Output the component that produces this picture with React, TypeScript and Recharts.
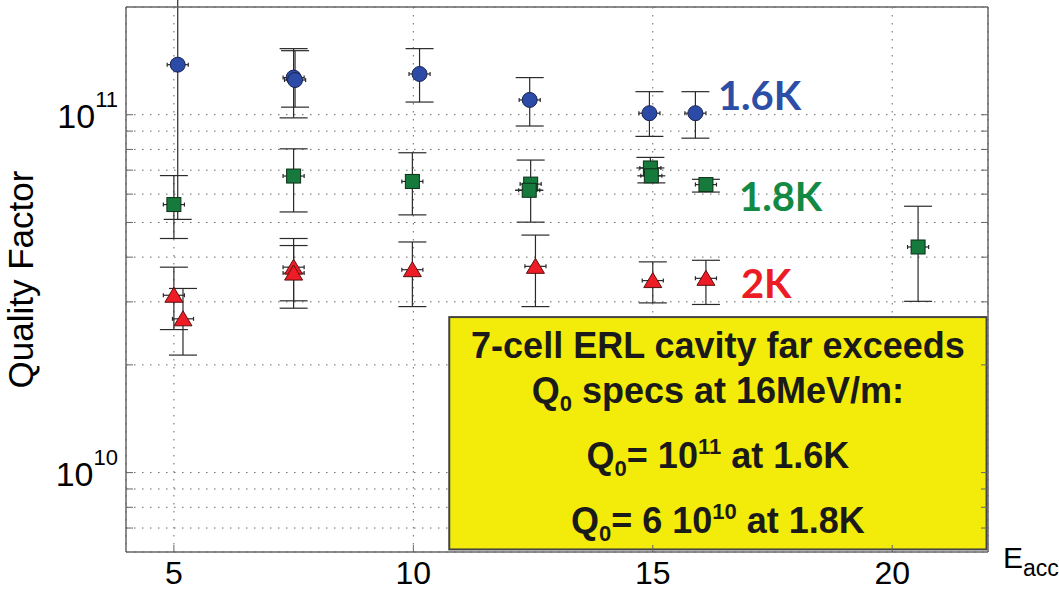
import React from 'react';
import {
  ScatterChart,
  Scatter,
  XAxis,
  YAxis,
  CartesianGrid,
  ErrorBar,
  ReferenceArea,
  ReferenceDot
} from 'recharts';

// E_acc (MV/m) and Q0 with lower / upper error limits, one set per bath temperature
const eacc16 = [5.08, 7.5, 7.53, 10.13, 12.43, 14.93, 15.89];
const q16 = [1.38e11, 1.27e11, 1.25e11, 1.3e11, 1.1e11, 1.01e11, 1.01e11];
const q16High = [4e11, 1.53e11, 1.51e11, 1.53e11, 1.27e11, 1.16e11, 1.16e11];
const q16Low = [5.1e10, 9.8e10, 1.05e11, 1.085e11, 9.3e10, 8.7e10, 8.6e10];

const eacc18 = [5.0, 7.5, 9.98, 12.45, 12.42, 14.95, 14.97, 16.11, 20.54];
const q18 = [5.61e10, 6.74e10, 6.51e10, 6.4e10, 6.15e10, 7.1e10, 6.75e10, 6.38e10, 4.27e10];
const q18High = [6.76e10, 8.03e10, 7.83e10, 7.47e10, 6.15e10, 7.6e10, 6.75e10, 6.6e10, 5.55e10];
const q18Low = [4.51e10, 5.35e10, 5.25e10, 5.01e10, 6.15e10, 7.1e10, 6.45e10, 6.08e10, 3.01e10];

const eacc20 = [5.0, 5.19, 7.5, 7.5, 9.98, 12.55, 15.0, 16.11];
const q20 = [3.13e10, 2.69e10, 3.75e10, 3.61e10, 3.69e10, 3.77e10, 3.44e10, 3.49e10];
const q20High = [3.75e10, 3.27e10, 4.51e10, 4.31e10, 4.41e10, 4.61e10, 3.88e10, 3.92e10];
const q20Low = [2.51e10, 2.13e10, 3.02e10, 2.88e10, 2.91e10, 2.91e10, 2.98e10, 2.95e10];

// half width of the horizontal error bars (MV/m)
const xErr = 0.22;

const xTicks = [5, 10, 15, 20];
const yTicks = [7e9, 8e9, 9e9, 1e10, 2e10, 3e10, 4e10, 5e10, 6e10, 7e10, 8e10, 9e10, 1e11];
const yLabelled = [1e10, 1e11];

// temperature annotations
const tempLabels = ['1.6K', '1.8K', '2K'];
const tempLabelE = [16.36, 16.8, 16.84];
const tempLabelQ = [1.135e11, 5.92e10, 3.38e10];

// yellow note box corners
const boxE = [10.75, 21.97];
const boxQ = [6.1e9, 2.72e10];

const BLUE = '#2B4BA7';
const GREEN = '#167A3C';
const RED = '#EE1C25';
const labelColors = ['#2C4EA6', '#138A43', '#EC1C24'];
const FRAME = '#666';
const FONT = "'Liberation Sans', Arial, sans-serif";

function buildRows(e: number[], q: number[], hi: number[], lo: number[]) {
  return e.map((x, i) => ({
    x,
    q: q[i],
    qErr: [q[i] - lo[i], hi[i] - q[i]],
    xErr: [xErr, xErr]
  }));
}

const rows16 = buildRows(eacc16, q16, q16High, q16Low);
const rows18 = buildRows(eacc18, q18, q18High, q18Low);
const rows20 = buildRows(eacc20, q20, q20High, q20Low);

const CircleMark = (p: any) => (
  <circle cx={p.cx} cy={p.cy} r={7.5} fill={BLUE} stroke="#1a2450" strokeWidth={1} />
);
const SquareMark = (p: any) => (
  <rect x={p.cx - 7} y={p.cy - 7} width={14} height={14} fill={GREEN} stroke="#0c2e16" strokeWidth={1} />
);
const TriangleMark = (p: any) => (
  <polygon
    points={`${p.cx},${p.cy - 8} ${p.cx + 9},${p.cy + 7} ${p.cx - 9},${p.cy + 7}`}
    fill={RED}
    stroke="#5a1010"
    strokeWidth={1}
  />
);

// ticks point inward, MATLAB style
const LeftTick = ({ x, y, payload }: any) => {
  const major = yLabelled.includes(payload.value);
  return (
    <g>
      <line x1={x} x2={x + 7} y1={y} y2={y} stroke={FRAME} />
      {major && (
        <text x={x - 8} y={y + 13} textAnchor="end" fontSize={34} fontFamily={FONT} fill="#000">
          10
          <tspan dy={-21} fontSize={22}>
            {Math.round(Math.log10(payload.value))}
          </tspan>
        </text>
      )}
    </g>
  );
};
const RightTick = ({ x, y }: any) => <line x1={x} x2={x - 7} y1={y} y2={y} stroke={FRAME} />;
const TopTick = ({ x, y }: any) => <line x1={x} x2={x} y1={y} y2={y + 7} stroke={FRAME} />;
const BottomTick = ({ x, y, payload }: any) => (
  <g>
    <line x1={x} x2={x} y1={y} y2={y - 7} stroke={FRAME} />
    <text x={x} y={y + 32} textAnchor="middle" fontSize={32} fontFamily={FONT} fill="#000">
      {payload.value}
    </text>
  </g>
);

const YTitle = (props: any) => {
  const vb = props.viewBox;
  const cx = vb.x + 33;
  const cy = vb.y + vb.height / 2;
  return (
    <text
      x={cx}
      y={cy}
      transform={`rotate(-90, ${cx}, ${cy})`}
      textAnchor="middle"
      fontSize={35}
      fontFamily={FONT}
      fill="#000"
    >
      Quality Factor
    </text>
  );
};

const XTitle = (props: any) => {
  const vb = props.viewBox;
  return (
    <text x={vb.x + vb.width + 15} y={vb.y + 16} fontSize={30} fontFamily={FONT} fill="#000">
      E
      <tspan dy={8} fontSize={23}>
        acc
      </tspan>
    </text>
  );
};

const NoteBox = (p: any) => {
  const cx = p.x + p.width / 2;
  const t = { textAnchor: 'middle' as const, fontSize: 36, fontWeight: 700, fontFamily: FONT, fill: '#1a1a1a' };
  return (
    <g>
      <rect x={p.x} y={p.y} width={p.width} height={p.height} fill="#F3EC0B" stroke="#444" strokeWidth={2} />
      <text x={cx} y={p.y + 41} {...t}>
        7-cell ERL cavity far exceeds
      </text>
      <text x={cx} y={p.y + 86} {...t}>
        Q<tspan dy={8} fontSize={22}>0</tspan>
        <tspan dy={-8}> specs at 16MeV/m:</tspan>
      </text>
      <text x={cx} y={p.y + 151} {...t}>
        Q<tspan dy={8} fontSize={22}>0</tspan>
        <tspan dy={-8}>= 10</tspan>
        <tspan dy={-14} fontSize={22}>11</tspan>
        <tspan dy={14}> at 1.6K</tspan>
      </text>
      <text x={cx} y={p.y + 216} {...t}>
        Q<tspan dy={8} fontSize={22}>0</tspan>
        <tspan dy={-8}>= 6 10</tspan>
        <tspan dy={-14} fontSize={22}>10</tspan>
        <tspan dy={14}> at 1.8K</tspan>
      </text>
    </g>
  );
};

const errStyle = { stroke: '#2a2a2a', strokeWidth: 1.2 };

export default function App() {
  return (
    <div style={{ position: 'absolute', left: 0, top: 0, background: '#fff' }}>
      <ScatterChart width={1059} height={590} margin={{ top: 6, right: 70, bottom: 0, left: 0 }}>
        <CartesianGrid yAxisId="l" strokeDasharray="1.5 6.5" stroke="#666" />
        <XAxis
          dataKey="x"
          type="number"
          domain={[4, 22]}
          ticks={xTicks}
          interval={0}
          allowDataOverflow
          height={38}
          tickSize={0}
          tickMargin={0}
          tickLine={false}
          axisLine={{ stroke: FRAME, strokeWidth: 1.5 }}
          tick={BottomTick}
          label={XTitle}
        />
        <XAxis
          xAxisId="t"
          orientation="top"
          type="number"
          domain={[4, 22]}
          ticks={xTicks}
          interval={0}
          allowDataOverflow
          height={1}
          tickSize={0}
          tickMargin={0}
          tickLine={false}
          axisLine={{ stroke: FRAME, strokeWidth: 1.5 }}
          tick={TopTick}
        />
        <YAxis
          yAxisId="l"
          dataKey="q"
          type="number"
          scale="log"
          domain={[6e9, 2e11]}
          ticks={yTicks}
          interval={0}
          allowDataOverflow
          width={126}
          tickSize={0}
          tickMargin={0}
          tickLine={false}
          axisLine={{ stroke: FRAME, strokeWidth: 1.5 }}
          tick={LeftTick}
          label={YTitle}
        />
        <YAxis
          yAxisId="r"
          orientation="right"
          type="number"
          scale="log"
          domain={[6e9, 2e11]}
          ticks={yTicks}
          interval={0}
          allowDataOverflow
          width={1}
          tickSize={0}
          tickMargin={0}
          tickLine={false}
          axisLine={{ stroke: FRAME, strokeWidth: 1.5 }}
          tick={RightTick}
        />
        <Scatter yAxisId="l" data={rows18} dataKey="q" shape={SquareMark} isAnimationActive={false}>
          <ErrorBar dataKey="qErr" direction="y" width={14} {...errStyle} isAnimationActive={false} />
          <ErrorBar dataKey="xErr" direction="x" width={2} {...errStyle} isAnimationActive={false} />
        </Scatter>
        <Scatter yAxisId="l" data={rows20} dataKey="q" shape={TriangleMark} isAnimationActive={false}>
          <ErrorBar dataKey="qErr" direction="y" width={14} {...errStyle} isAnimationActive={false} />
          <ErrorBar dataKey="xErr" direction="x" width={2} {...errStyle} isAnimationActive={false} />
        </Scatter>
        <Scatter yAxisId="l" data={rows16} dataKey="q" shape={CircleMark} isAnimationActive={false}>
          <ErrorBar dataKey="qErr" direction="y" width={14} {...errStyle} isAnimationActive={false} />
          <ErrorBar dataKey="xErr" direction="x" width={2} {...errStyle} isAnimationActive={false} />
        </Scatter>
        {tempLabels.map((txt, i) => (
          <ReferenceDot
            key={txt}
            yAxisId="l"
            x={tempLabelE[i]}
            y={tempLabelQ[i]}
            r={0}
            shape={(p: any) => (
              <text
                x={p.cx}
                y={p.cy}
                dominantBaseline="central"
                fontSize={40}
                fontWeight={700}
                fontFamily="Lato, 'Noto Sans', sans-serif"
                fill={labelColors[i]}
              >
                {txt}
              </text>
            )}
          />
        ))}
        <ReferenceArea
          yAxisId="l"
          x1={boxE[0]}
          x2={boxE[1]}
          y1={boxQ[0]}
          y2={boxQ[1]}
          shape={NoteBox}
        />
      </ScatterChart>
    </div>
  );
}
